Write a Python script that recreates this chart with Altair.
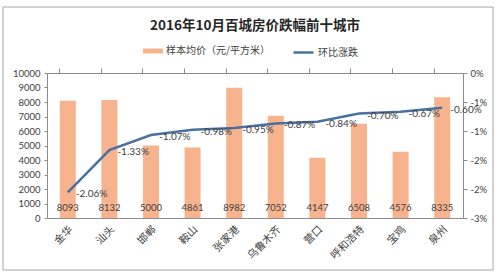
import altair as alt
import pandas as pd

cities = ["金华", "汕头", "邯郸", "鞍山", "张家港", "乌鲁木齐", "营口", "呼和浩特", "宝鸡", "泉州"]
prices = [8093, 8132, 5000, 4861, 8982, 7052, 4147, 6508, 4576, 8335]
changes = [-2.06, -1.33, -1.07, -0.98, -0.95, -0.87, -0.84, -0.70, -0.67, -0.60]
left_ticks = [0, 1000, 2000, 3000, 4000, 5000, 6000, 7000, 8000, 9000, 10000]
right_ticks = [0, -0.5, -1, -1.5, -2, -2.5]

BAR_NAME = "样本均价（元/平方米）"
LINE_NAME = "环比涨跌"
BAR_COLOR = "#F7B38E"
LINE_COLOR = "#4A70A0"
TEXT = "#404040"
NUMFONT = "Lato"
CJK = "Noto Sans CJK SC"

df = pd.DataFrame({
    "city": cities,
    "price": prices,
    "chg": changes,
    "chg_label": [f"{v:.2f}%" for v in changes],
    "s1": [BAR_NAME] * len(cities),
    "s2": [LINE_NAME] * len(cities),
})

W, H = 416, 145

xs = alt.Scale(domain=cities, paddingInner=0.615, paddingOuter=0.3075)
ys_left = alt.Scale(domain=[0, 10000], nice=False)
ys_right = alt.Scale(domain=[-2.5, 0], nice=False)

ax_x_labels = alt.Axis(labelAngle=-45, labelFont=CJK, labelFontSize=10.5,
                       labelColor=TEXT, ticks=False, domain=True,
                       domainColor="#8C8C8C", labelPadding=6, labelOverlap=False)
ax_x_ticks = alt.Axis(labels=False, ticks=True, tickSize=5, tickColor="#8C8C8C",
                      bandPosition=0, domain=True, domainColor="#8C8C8C")
ax_left = alt.Axis(values=left_ticks, grid=False, format="d", labelOverlap=False,
                   labelFont=NUMFONT, labelFontSize=9.5, labelColor=TEXT,
                   tickSize=3, tickColor="#8C8C8C", domainColor="#8C8C8C",
                   labelPadding=4)
ax_right = alt.Axis(orient="right", values=right_ticks, grid=False, labelOverlap=False,
                    labelExpr="datum.value == 0 ? '0%' : '-' + toString(round(abs(datum.value))) + '%'",
                    labelFont=NUMFONT, labelFontSize=9.5, labelColor=TEXT,
                    tickSize=4, tickColor="#8C8C8C", domainColor="#8C8C8C",
                    labelPadding=3)

base = alt.Chart(df)

bars = base.mark_bar(color=BAR_COLOR).encode(
    x=alt.X("city:N", scale=xs, sort=cities, title=None, axis=ax_x_labels),
    y=alt.Y("price:Q", scale=ys_left, title=None, axis=ax_left),
    fill=alt.Fill("s1:N", scale=alt.Scale(domain=[BAR_NAME], range=[BAR_COLOR]),
                  legend=alt.Legend(orient="none", legendX=96, legendY=-32, title=None,
                                    symbolType="M-1,-0.25H1V0.25H-1Z", symbolSize=400,
                                    symbolStrokeWidth=0, labelFont=CJK, labelFontSize=10,
                                    labelColor=TEXT, padding=0, labelOffset=3)),
)

bar_text = base.mark_text(font=NUMFONT, fontSize=9.5, color=TEXT, baseline="middle").encode(
    x=alt.X("city:N", scale=xs, sort=cities, title=None, axis=ax_x_labels),
    y=alt.YDatum(700, scale=ys_left, title=None, axis=ax_left),
    text=alt.Text("price:Q"),
)

left = alt.layer(bars, bar_text)

line = base.mark_line(strokeWidth=2.5).encode(
    x=alt.X("city:N", scale=xs, sort=cities, title=None, axis=ax_x_ticks),
    y=alt.Y("chg:Q", scale=ys_right, title=None, axis=ax_right),
    stroke=alt.Stroke("s2:N", scale=alt.Scale(domain=[LINE_NAME], range=[LINE_COLOR]),
                      legend=alt.Legend(orient="none", legendX=245, legendY=-32, title=None,
                                        symbolType="stroke", symbolSize=400,
                                        symbolStrokeWidth=2.5, labelFont=CJK, labelFontSize=10,
                                        labelColor=TEXT, padding=0, labelOffset=3)),
)

line_text = base.mark_text(font=NUMFONT, fontSize=10, color=TEXT, align="left",
                           baseline="middle", dx=8, dy=2).encode(
    x=alt.X("city:N", scale=xs, sort=cities, title=None, axis=ax_x_ticks),
    y=alt.Y("chg:Q", scale=ys_right, title=None, axis=ax_right),
    text="chg_label:N",
)

right = alt.layer(line, line_text)

frame_df = pd.DataFrame({"k": [0]})
frame = alt.Chart(frame_df).mark_rect(fill=None, stroke="#A6A6A6", strokeWidth=1).encode(
    x=alt.value(-44), x2=alt.value(446), y=alt.value(-66), y2=alt.value(197)
)

chart = alt.layer(left, right, frame).resolve_scale(
    y="independent"
).resolve_axis(x="independent").properties(
    width=W, height=H,
    title=alt.TitleParams("2016年10月百城房价跌幅前十城市", font=CJK, fontSize=13.5,
                          fontWeight="bold", color="#262626", anchor="middle",
                          offset=0, dy=26),
    padding={"left": 47, "top": 73, "right": 37, "bottom": 59},
    autosize=alt.AutoSizeParams(type="none"),
).configure_view(stroke=None).configure(background="white")

chart.save("out.html", embed_options={"renderer": "svg", "actions": False})
